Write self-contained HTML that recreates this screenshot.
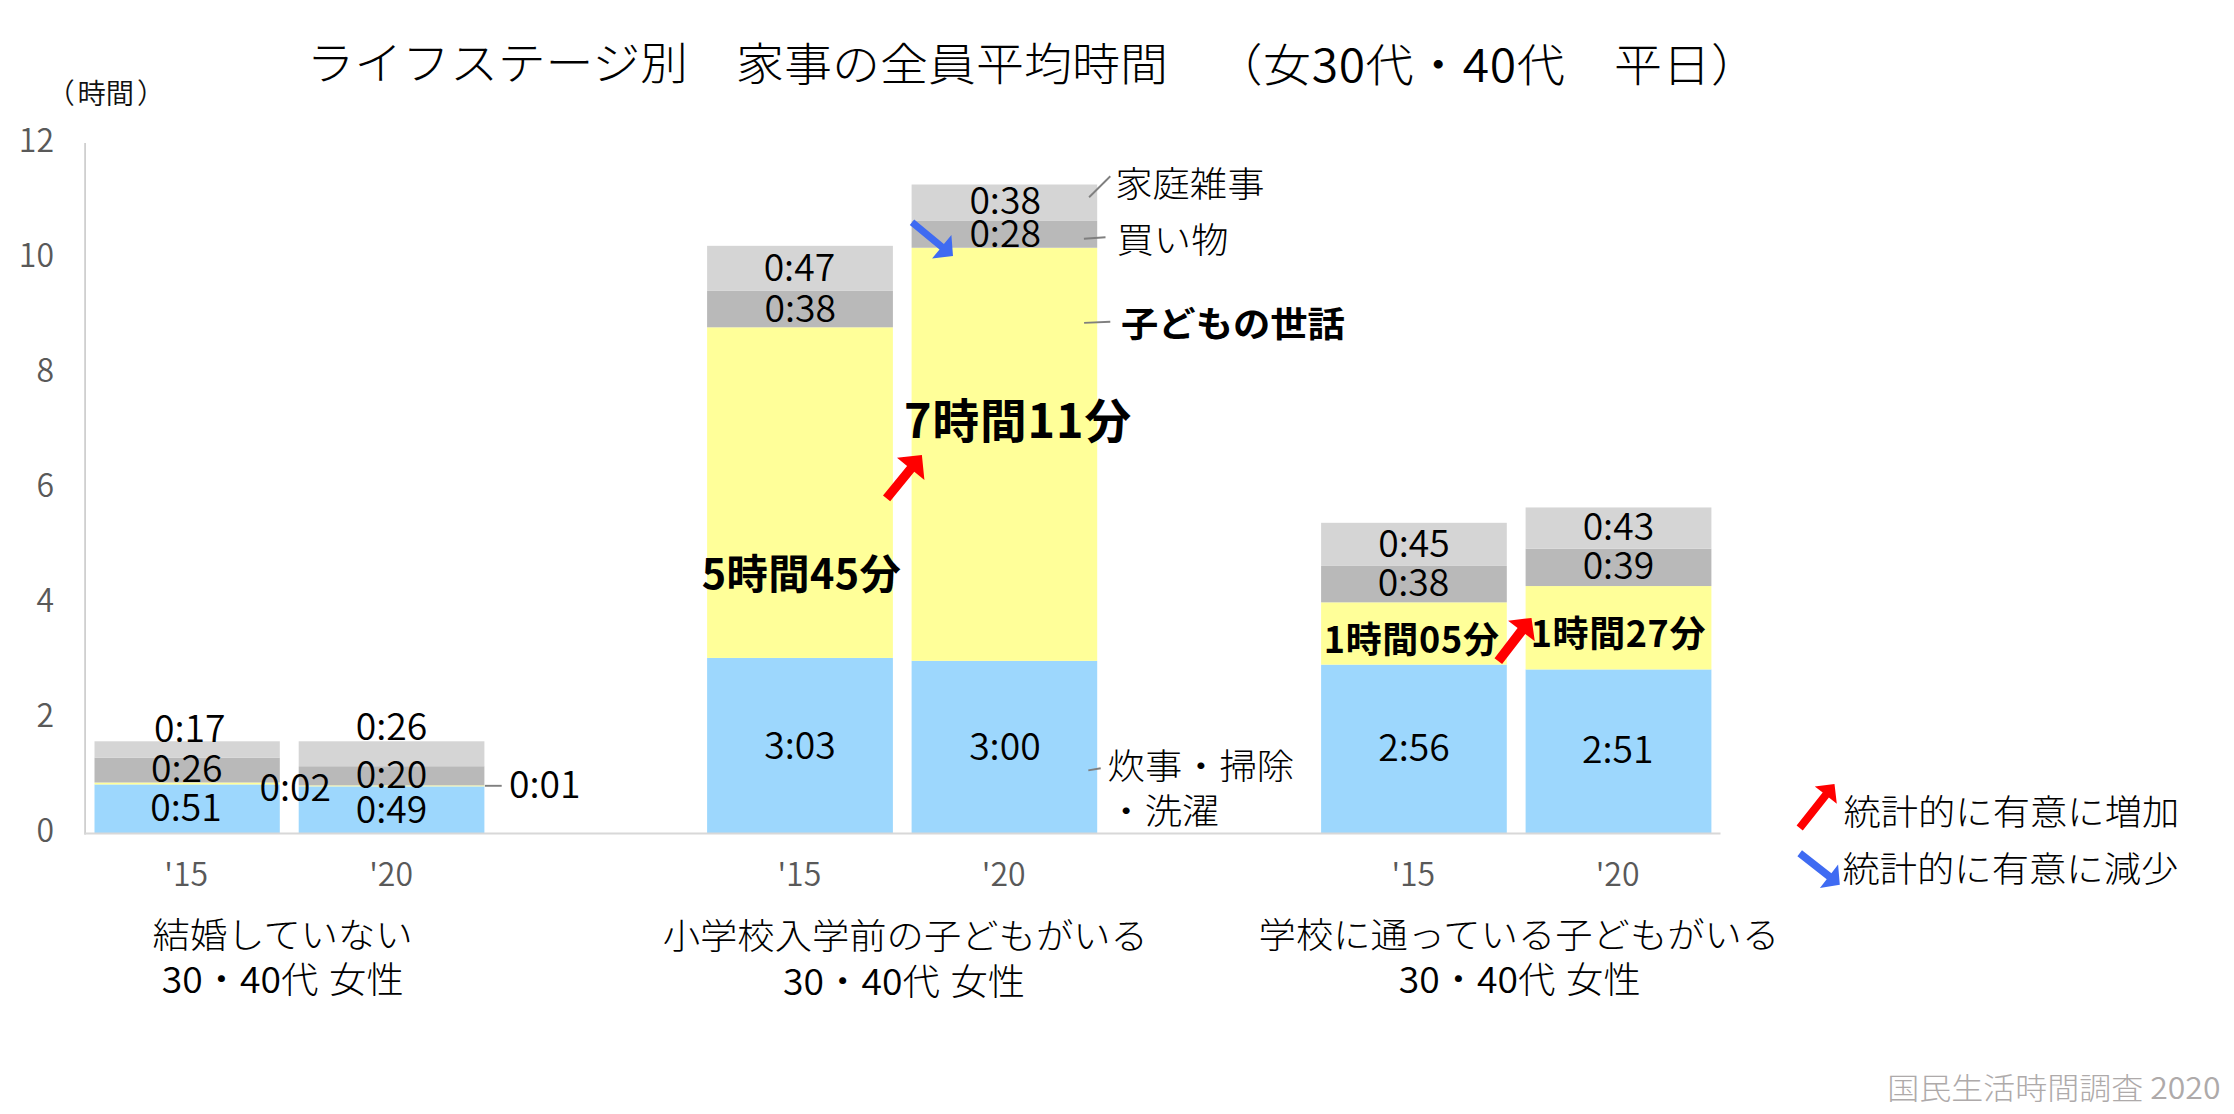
<!DOCTYPE html>
<html lang="ja"><head><meta charset="utf-8"><title>ライフステージ別 家事の全員平均時間</title>
<style>
html,body{margin:0;padding:0;background:#fff;}
body{width:2234px;height:1114px;overflow:hidden;}
svg{display:block;}
svg text{font-family:"Noto Sans CJK JP", "Liberation Sans", sans-serif;white-space:pre;text-spacing-trim:space-all;}
</style></head><body>
<svg width="2234" height="1114" viewBox="0 0 2234 1114">
<rect width="2234" height="1114" fill="#fff"/>
<g id="bars">
<rect x="94.5" y="784.42" width="185.3" height="48.88" fill="#9dd7fd"/>
<rect x="94.5" y="782.51" width="185.3" height="1.92" fill="#ffff99"/>
<rect x="94.5" y="757.59" width="185.3" height="24.92" fill="#b9b9b9"/>
<rect x="94.5" y="741.30" width="185.3" height="16.29" fill="#d5d5d5"/>
<rect x="298.7" y="786.34" width="185.7" height="46.96" fill="#9dd7fd"/>
<rect x="298.7" y="785.38" width="185.7" height="0.96" fill="#ffff99"/>
<rect x="298.7" y="766.22" width="185.7" height="19.17" fill="#b9b9b9"/>
<rect x="298.7" y="741.30" width="185.7" height="24.92" fill="#d5d5d5"/>
<rect x="707.1" y="657.92" width="185.8" height="175.38" fill="#9dd7fd"/>
<rect x="707.1" y="327.30" width="185.8" height="330.62" fill="#ffff99"/>
<rect x="707.1" y="290.88" width="185.8" height="36.42" fill="#b9b9b9"/>
<rect x="707.1" y="245.84" width="185.8" height="45.04" fill="#d5d5d5"/>
<rect x="911.6" y="660.80" width="185.6" height="172.50" fill="#9dd7fd"/>
<rect x="911.6" y="247.76" width="185.6" height="413.04" fill="#ffff99"/>
<rect x="911.6" y="220.92" width="185.6" height="26.83" fill="#b9b9b9"/>
<rect x="911.6" y="184.51" width="185.6" height="36.42" fill="#d5d5d5"/>
<rect x="1321.1" y="664.63" width="185.7" height="168.67" fill="#9dd7fd"/>
<rect x="1321.1" y="602.34" width="185.7" height="62.29" fill="#ffff99"/>
<rect x="1321.1" y="565.92" width="185.7" height="36.42" fill="#b9b9b9"/>
<rect x="1321.1" y="522.80" width="185.7" height="43.12" fill="#d5d5d5"/>
<rect x="1525.6" y="669.42" width="185.8" height="163.88" fill="#9dd7fd"/>
<rect x="1525.6" y="586.05" width="185.8" height="83.38" fill="#ffff99"/>
<rect x="1525.6" y="548.67" width="185.8" height="37.38" fill="#b9b9b9"/>
<rect x="1525.6" y="507.47" width="185.8" height="41.21" fill="#d5d5d5"/>
<line x1="85.1" y1="143" x2="85.1" y2="834.5" stroke="#cfcfcf" stroke-width="1.8"/>
<line x1="84.2" y1="833.6" x2="1720.5" y2="833.6" stroke="#d8d8d8" stroke-width="2"/>
<line x1="1089.1" y1="197.2" x2="1110.3" y2="176.3" stroke="#7f7f7f" stroke-width="1.9"/>
<line x1="1083.9" y1="238.7" x2="1105.5" y2="237.2" stroke="#7f7f7f" stroke-width="1.9"/>
<line x1="1084.1" y1="322.9" x2="1110.3" y2="321.8" stroke="#7f7f7f" stroke-width="1.9"/>
<line x1="1088.3" y1="770.4" x2="1100.7" y2="768.3" stroke="#7f7f7f" stroke-width="1.9"/>
<line x1="484.9" y1="785.8" x2="501.7" y2="785.8" stroke="#7f7f7f" stroke-width="1.9"/>
</g>
<g id="texts">
<text id="ta" transform="scale(1,0.94)" x="306.50" y="85.43" font-size="48.00" font-weight="300" fill="#000" text-anchor="start" letter-spacing="-0.20">ライフステージ別</text>
<text id="tb" transform="scale(1,0.94)" x="736.00" y="85.85" font-size="48.00" font-weight="300" fill="#000" text-anchor="start">家事の全員平均時間</text>
<text id="tc" transform="scale(1,0.94)" x="1214.50" y="87.23" font-size="48.00" font-weight="300" fill="#000" text-anchor="start" letter-spacing="0.60">（女<tspan font-weight="350">30</tspan>代・<tspan font-weight="350">40</tspan>代　平日）</text>
<text id="jikan" x="52.00" y="104.30" font-size="28.30" font-weight="350" fill="#111" text-anchor="start"><tspan x="46.4">（</tspan><tspan x="77.4">時間</tspan><tspan x="137">）</tspan></text>
<text id="y12" x="54.00" y="151.70" font-size="32.00" font-weight="350" fill="#595959" text-anchor="end">12</text>
<text id="y10" x="54.00" y="266.70" font-size="32.00" font-weight="350" fill="#595959" text-anchor="end">10</text>
<text id="y8" x="54.00" y="381.70" font-size="32.00" font-weight="350" fill="#595959" text-anchor="end">8</text>
<text id="y6" x="54.00" y="496.70" font-size="32.00" font-weight="350" fill="#595959" text-anchor="end">6</text>
<text id="y4" x="54.00" y="611.70" font-size="32.00" font-weight="350" fill="#595959" text-anchor="end">4</text>
<text id="y2" x="54.00" y="726.70" font-size="32.00" font-weight="350" fill="#595959" text-anchor="end">2</text>
<text id="y0" x="54.00" y="841.70" font-size="32.00" font-weight="350" fill="#595959" text-anchor="end">0</text>
<text id="x0" x="186.17" y="885.50" font-size="32.00" font-weight="350" fill="#595959" text-anchor="middle"><tspan dy="4">'</tspan><tspan dy="-4">15</tspan></text>
<text id="x1" x="391.07" y="885.50" font-size="32.00" font-weight="350" fill="#595959" text-anchor="middle"><tspan dy="4">'</tspan><tspan dy="-4">20</tspan></text>
<text id="x3" x="799.32" y="885.50" font-size="32.00" font-weight="350" fill="#595959" text-anchor="middle"><tspan dy="4">'</tspan><tspan dy="-4">15</tspan></text>
<text id="x4" x="1003.72" y="885.50" font-size="32.00" font-weight="350" fill="#595959" text-anchor="middle"><tspan dy="4">'</tspan><tspan dy="-4">20</tspan></text>
<text id="x6" x="1413.27" y="885.50" font-size="32.00" font-weight="350" fill="#595959" text-anchor="middle"><tspan dy="4">'</tspan><tspan dy="-4">15</tspan></text>
<text id="x7" x="1617.62" y="885.50" font-size="32.00" font-weight="350" fill="#595959" text-anchor="middle"><tspan dy="4">'</tspan><tspan dy="-4">20</tspan></text>
<text id="g1a" transform="scale(1,0.94)" x="282.70" y="1008.51" font-size="37.33" font-weight="300" fill="#000" text-anchor="middle">結婚していない</text>
<text id="g1b" transform="scale(1,0.965)" x="282.70" y="1029.02" font-size="37.33" font-weight="300" fill="#000" text-anchor="middle"><tspan font-weight="350">30</tspan>・<tspan font-weight="350">40</tspan>代 <tspan dx="2.5">女性</tspan></text>
<text id="g2a" transform="scale(1,0.94)" x="905.30" y="1009.79" font-size="37.33" font-weight="300" fill="#000" text-anchor="middle">小学校入学前の子どもがいる</text>
<text id="g2b" transform="scale(1,0.965)" x="904.10" y="1031.30" font-size="37.33" font-weight="300" fill="#000" text-anchor="middle"><tspan font-weight="350">30</tspan>・<tspan font-weight="350">40</tspan>代 <tspan dx="2.5">女性</tspan></text>
<text id="g3a" transform="scale(1,0.94)" x="1518.90" y="1008.09" font-size="37.33" font-weight="300" fill="#000" text-anchor="middle">学校に通っている子どもがいる</text>
<text id="g3b" transform="scale(1,0.965)" x="1519.70" y="1029.02" font-size="37.33" font-weight="300" fill="#000" text-anchor="middle"><tspan font-weight="350">30</tspan>・<tspan font-weight="350">40</tspan>代 <tspan dx="2.5">女性</tspan></text>
<text id="d0a" x="185.95" y="821.20" font-size="37.33" font-weight="350" fill="#000" text-anchor="middle">0:51</text>
<text id="d0b" x="295.30" y="801.00" font-size="37.33" font-weight="350" fill="#000" text-anchor="middle">0:02</text>
<text id="d0c" x="186.85" y="782.30" font-size="37.33" font-weight="350" fill="#000" text-anchor="middle">0:26</text>
<text id="d0d" x="189.85" y="742.40" font-size="37.33" font-weight="350" fill="#000" text-anchor="middle">0:17</text>
<text id="d1a" x="391.55" y="822.70" font-size="37.33" font-weight="350" fill="#000" text-anchor="middle">0:49</text>
<text id="d1b" x="544.70" y="798.30" font-size="37.33" font-weight="350" fill="#000" text-anchor="middle">0:01</text>
<text id="d1c" x="391.55" y="787.60" font-size="37.33" font-weight="350" fill="#000" text-anchor="middle">0:20</text>
<text id="d1d" x="391.55" y="740.40" font-size="37.33" font-weight="350" fill="#000" text-anchor="middle">0:26</text>
<text id="d3a" x="800.00" y="758.50" font-size="37.33" font-weight="350" fill="#000" text-anchor="middle">3:03</text>
<text id="d3c" x="800.30" y="321.80" font-size="37.33" font-weight="350" fill="#000" text-anchor="middle">0:38</text>
<text id="d3d" x="799.40" y="280.50" font-size="37.33" font-weight="350" fill="#000" text-anchor="middle">0:47</text>
<text id="d4a" x="1004.90" y="759.60" font-size="37.33" font-weight="350" fill="#000" text-anchor="middle">3:00</text>
<text id="d4c" x="1005.15" y="247.20" font-size="37.33" font-weight="350" fill="#000" text-anchor="middle">0:28</text>
<text id="d4d" x="1005.15" y="214.40" font-size="37.33" font-weight="350" fill="#000" text-anchor="middle">0:38</text>
<text id="d6a" x="1413.95" y="761.30" font-size="37.33" font-weight="350" fill="#000" text-anchor="middle">2:56</text>
<text id="d6c" x="1413.55" y="596.20" font-size="37.33" font-weight="350" fill="#000" text-anchor="middle">0:38</text>
<text id="d6d" x="1414.05" y="556.60" font-size="37.33" font-weight="350" fill="#000" text-anchor="middle">0:45</text>
<text id="d7a" x="1617.85" y="763.40" font-size="37.33" font-weight="350" fill="#000" text-anchor="middle">2:51</text>
<text id="d7c" x="1618.40" y="579.00" font-size="37.33" font-weight="350" fill="#000" text-anchor="middle">0:39</text>
<text id="d7d" x="1618.40" y="540.00" font-size="37.33" font-weight="350" fill="#000" text-anchor="middle">0:43</text>
<text id="b3" x="801.50" y="588.80" font-size="41.33" font-weight="700" fill="#000" text-anchor="middle" letter-spacing="0.40">5時間45分</text>
<text id="b4" x="1018.00" y="438.20" font-size="46.67" font-weight="700" fill="#000" text-anchor="middle" letter-spacing="0.90">7時間11分</text>
<text id="b6" x="1411.70" y="653.40" font-size="36.00" font-weight="700" fill="#000" text-anchor="middle" letter-spacing="0.70">1時間05分</text>
<text id="b7" x="1618.40" y="647.20" font-size="36.00" font-weight="700" fill="#000" text-anchor="middle" letter-spacing="0.60">1時間27分</text>
<text id="c1" transform="scale(1,0.94)" x="1115.20" y="209.57" font-size="37.33" font-weight="300" fill="#000" text-anchor="start">家庭雑事</text>
<text id="c2" transform="scale(1,0.94)" x="1116.50" y="269.15" font-size="37.33" font-weight="300" fill="#000" text-anchor="start">買い物</text>
<text id="c3" transform="scale(1,0.94)" x="1121.00" y="358.51" font-size="37.33" font-weight="700" fill="#000" text-anchor="start">子どもの世話</text>
<text id="c4a" transform="scale(1,0.94)" x="1107.60" y="828.94" font-size="37.33" font-weight="300" fill="#000" text-anchor="start">炊事・掃除</text>
<text id="c4b" transform="scale(1,0.94)" x="1107.40" y="876.81" font-size="37.33" font-weight="300" fill="#000" text-anchor="start">・洗濯</text>
<text id="l1" transform="scale(1,0.94)" x="1843.40" y="877.45" font-size="37.33" font-weight="300" fill="#000" text-anchor="start">統計的に有意に増加</text>
<text id="l2" transform="scale(1,0.94)" x="1842.40" y="938.51" font-size="37.33" font-weight="300" fill="#000" text-anchor="start">統計的に有意に減少</text>
<text id="foot" transform="scale(1,0.94)" x="2220.50" y="1169.15" font-size="32.00" font-weight="300" fill="#aeaaaa" text-anchor="end">国民生活時間調査 <tspan font-weight="350">2020</tspan></text>
</g>
<g id="arrows">
<polygon points="890.2,501.3 914.3,471.8 924.4,480.0 921.9,455.1 897.0,457.7 907.1,465.9 883.0,495.5" fill="#ff0000"/>
<polygon points="909.8,225.0 939.5,249.4 932.1,258.5 953.0,256.0 951.4,235.0 943.9,244.1 914.2,219.6" fill="#3f6bf2"/>
<polygon points="1502.1,664.0 1525.3,633.9 1534.8,641.2 1531.5,617.9 1508.1,620.7 1517.6,628.1 1494.5,658.2" fill="#ff0000"/>
<polygon points="1802.8,830.4 1828.9,797.5 1836.8,803.8 1834.5,784.1 1814.8,786.4 1822.7,792.6 1796.6,825.4" fill="#ff0000"/>
<polygon points="1797.4,856.3 1826.7,879.2 1819.9,887.9 1839.8,884.7 1838.1,864.6 1831.4,873.3 1802.0,850.3" fill="#3f6bf2"/>
</g>
</svg>
</body></html>
